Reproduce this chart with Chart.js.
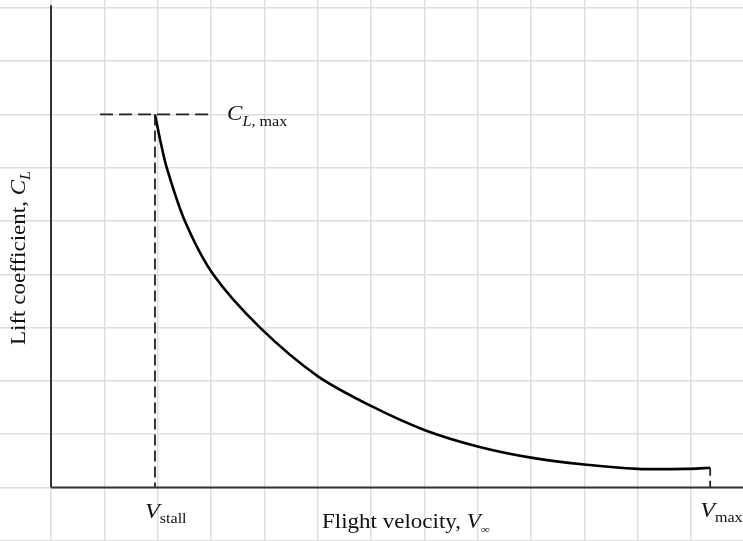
<!DOCTYPE html>
<html>
<head>
<meta charset="utf-8">
<script src="https://cdn.jsdelivr.net/npm/chart.js@4"></script>
<style>
  html, body { margin: 0; padding: 0; background: #fff; }
  canvas { display: block; }
</style>
</head>
<body>
<canvas id="liftChart" width="743" height="541"></canvas>
<script>
// values in grid units
const velocity = [1.95, 2.06, 2.17, 2.51, 3.04, 3.92, 5.0, 6.0, 7.0, 8.0, 9.0, 10.0, 11.0, 12.0, 12.36];
const liftCoeff = [7.0, 6.46, 6.0, 5.0, 4.0, 3.0, 2.09, 1.53, 1.08, 0.77, 0.56, 0.43, 0.35, 0.35, 0.37];
const vStall = 1.95;
const vMax = 12.36;
const clMax = 7.0;
const clMaxDashFrom = 0.92;
const clMaxDashTo = 3.04;
const axisTopY = 9.05;
const axisRightX = 13.0;
const gridX = [-1, 0, 1, 2, 3, 4, 5, 6, 7, 8, 9, 10, 11, 12, 13];
const gridY = [-1, 0, 1, 2, 3, 4, 5, 6, 7, 8, 9];

const serif = '"Liberation Serif", "Times New Roman", serif';
const ink = '#111';

function drawRich(ctx, parts, x, y, angle, stretch) {
  ctx.save();
  ctx.translate(x, y);
  ctx.rotate(angle);
  ctx.scale(stretch, 1);
  ctx.fillStyle = ink;
  ctx.textBaseline = 'alphabetic';
  let cx = 0;
  parts.forEach(p => {
    ctx.font = p.font;
    ctx.fillText(p.text, cx, p.dy || 0);
    cx += ctx.measureText(p.text).width + (p.kern || 0);
  });
  ctx.restore();
}

// text labels placed through the scales
const labelPlugin = {
  id: 'labels',
  afterDraw(chart) {
    const ctx = chart.ctx;
    const xs = chart.scales.x, ys = chart.scales.y;
    const st = 1.15;

    drawRich(ctx, [
      { text: 'V', font: 'italic 21px ' + serif },
      { text: 'stall', font: '14px ' + serif, dy: 5 }
    ], xs.getPixelForValue(vStall) - 10, ys.getPixelForValue(0) + 30, 0, st);

    drawRich(ctx, [
      { text: 'V', font: 'italic 21px ' + serif },
      { text: 'max', font: '14px ' + serif, dy: 5 }
    ], xs.getPixelForValue(vMax) - 10, ys.getPixelForValue(0) + 29, 0, st);

    drawRich(ctx, [
      { text: 'Flight velocity, ', font: '20px ' + serif },
      { text: 'V', font: 'italic 20px ' + serif },
      { text: '\u221E', font: 'italic 11px ' + serif, dy: 5 }
    ], 322, ys.getPixelForValue(0) + 40, 0, st);

    drawRich(ctx, [
      { text: 'C', font: 'italic 20px ' + serif },
      { text: 'L,', font: 'italic 14px ' + serif, dy: 6 },
      { text: ' max', font: '14px ' + serif, dy: 6 }
    ], xs.getPixelForValue(clMaxDashTo) + 14, ys.getPixelForValue(clMax) + 6, 0, st);

    drawRich(ctx, [
      { text: 'Lift coefficient, ', font: '20px ' + serif },
      { text: 'C', font: 'italic 20px ' + serif },
      { text: 'L', font: 'italic 14px ' + serif, dy: 5 }
    ], 25, 345, -Math.PI / 2, st);
  }
};

const lineStyle = { pointRadius: 0, fill: false, tension: 0 };

new Chart(document.getElementById('liftChart'), {
  type: 'line',
  data: {
    datasets: [
      Object.assign({
        label: 'x axis',
        data: [{ x: 0, y: 0 }, { x: axisRightX, y: 0 }],
        borderColor: '#333', borderWidth: 2
      }, lineStyle),
      Object.assign({
        label: 'y axis',
        data: [{ x: 0, y: 0 }, { x: 0, y: axisTopY }],
        borderColor: '#333', borderWidth: 2
      }, lineStyle),
      Object.assign({
        label: 'CL max',
        data: [{ x: clMaxDashFrom, y: clMax }, { x: clMaxDashTo, y: clMax }],
        borderColor: '#222', borderWidth: 1.8, borderDash: [13, 6]
      }, lineStyle),
      Object.assign({
        label: 'V stall',
        data: [{ x: vStall, y: clMax }, { x: vStall, y: 0 }],
        borderColor: '#222', borderWidth: 1.8, borderDash: [11, 5]
      }, lineStyle),
      Object.assign({
        label: 'V max',
        data: [{ x: vMax, y: liftCoeff[liftCoeff.length - 1] }, { x: vMax, y: 0 }],
        borderColor: '#222', borderWidth: 1.8, borderDash: [8, 5]
      }, lineStyle),
      {
        label: 'CL',
        data: velocity.map((v, i) => ({ x: v, y: liftCoeff[i] })),
        borderColor: '#000',
        borderWidth: 2.6,
        pointRadius: 0,
        fill: false,
        tension: 0.3
      }
    ]
  },
  options: {
    responsive: false,
    animation: false,
    devicePixelRatio: 1,
    layout: { padding: 0, autoPadding: false },
    plugins: {
      legend: { display: false },
      tooltip: { enabled: false }
    },
    scales: {
      x: {
        type: 'linear',
        min: -51 / 53.33,
        max: (743 - 51) / 53.33,
        afterBuildTicks: scale => { scale.ticks = gridX.map(v => ({ value: v })); },
        ticks: { display: false },
        border: { display: false },
        grid: { color: '#dedede', lineWidth: 1.5, drawTicks: false }
      },
      y: {
        type: 'linear',
        min: -(541 - 487.5) / 53.3,
        max: 487.5 / 53.3,
        afterBuildTicks: scale => { scale.ticks = gridY.map(v => ({ value: v })); },
        ticks: { display: false },
        border: { display: false },
        grid: { color: '#dedede', lineWidth: 1.5, drawTicks: false }
      }
    }
  },
  plugins: [labelPlugin]
});
</script>
</body>
</html>
